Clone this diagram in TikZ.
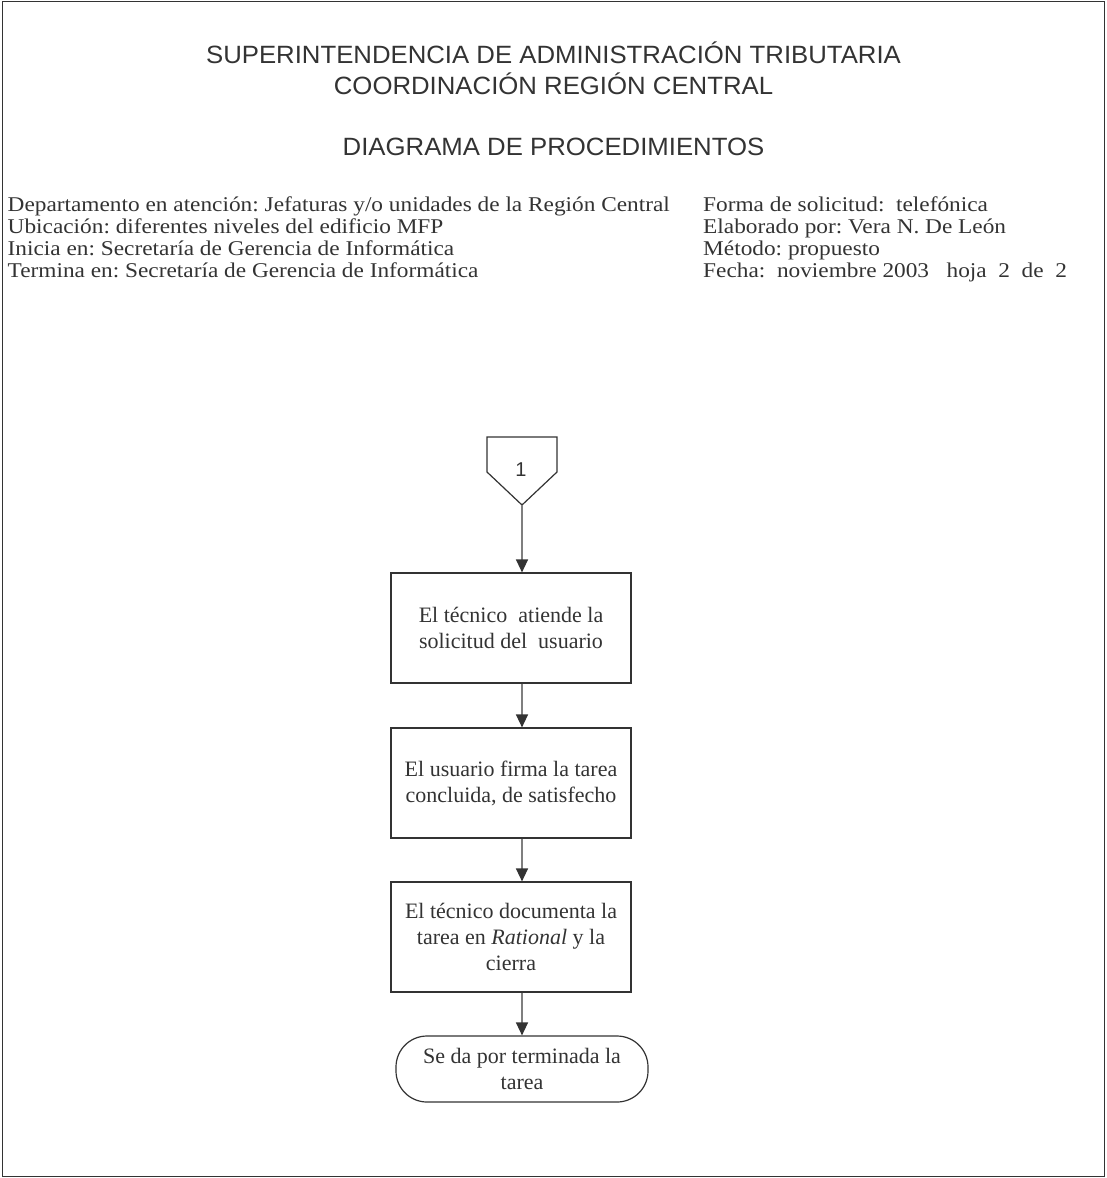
\documentclass[tikz,border=0pt]{standalone}
\usepackage{fontspec}
\setmainfont{Liberation Serif}
\newfontfamily\infofont[FakeStretch=1.11]{Liberation Serif}
\newfontfamily\hdrfont[FakeStretch=1.03]{Liberation Sans}
\newfontfamily\lblfont{Liberation Sans}
\usetikzlibrary{arrows.meta}
\definecolor{ink}{HTML}{333333}
\definecolor{wire}{HTML}{7F7F7F}
\frenchspacing
\begin{document}
\begin{tikzpicture}[x=1pt,y=-1pt,
  title/.style={font=\hdrfont\fontsize{25}{25}\selectfont, text=ink, inner sep=0pt, anchor=base},
  info/.style={font=\infofont\fontsize{21}{22}\selectfont, text=ink, inner sep=0pt, anchor=base west},
  stepbox/.style={draw=ink, line width=1.2pt, minimum width=240pt, minimum height=110pt,
    inner sep=0pt, align=center, text=ink, font=\fontsize{22}{26}\selectfont},
  endbox/.style={draw=ink, line width=1.2pt, minimum width=252pt, minimum height=66pt,
    rounded corners=31pt, inner sep=0pt, align=center, text=ink, font=\fontsize{22}{26}\selectfont},
  flow/.style={draw=wire, line width=1.4pt, -{Triangle[length=13pt,width=12pt,color=ink]}}
]
\useasboundingbox (0,0) rectangle (1107,1178);
% page frame
\draw[ink, line width=1.5pt] (2.5,1.5) rectangle (1104.5,1176.5);

% heading
\node[title] (t1) at (553.5,63) {SUPERINTENDENCIA DE ADMINISTRACIÓN TRIBUTARIA};
\node[title] (t2) at (553.5,94) {COORDINACIÓN REGIÓN CENTRAL};
\node[title] (t3) at (553.5,155) {DIAGRAMA DE PROCEDIMIENTOS};

% procedure data, left column
\node[info] (l1) at (7.5,211) {Departamento en atención: Jefaturas y/o unidades de la Región Central};
\node[info] (l2) at (7.5,233) {Ubicación: diferentes niveles del edificio MFP};
\node[info] (l3) at (7.5,255) {Inicia en: Secretaría de Gerencia de Informática};
\node[info] (l4) at (7.5,277) {Termina en: Secretaría de Gerencia de Informática};
% procedure data, right column
\node[info] (r1) at (703,211) {Forma de solicitud:\ \ telefónica};
\node[info] (r2) at (703,233) {Elaborado por: Vera N. De León};
\node[info] (r3) at (703,255) {Método: propuesto};
\node[info] (r4) at (703,277) {Fecha:\ \ noviembre 2003\ \ \ hoja\ \ 2\ \ de\ \ 2};

% off-page connector
\draw[ink, line width=1.2pt, fill=white] (487,437) -- (557,437) -- (557,472) -- (522,505) -- (487,472) -- cycle;
\coordinate (ctip) at (522,505);
\node[font=\lblfont\fontsize{20}{20}\selectfont, text=ink, inner sep=0pt] (cnum) at (521,470) {1};

% process steps
\node[stepbox] (s1) at (511,628) {El técnico\ \ atiende la\\solicitud del\ \ usuario};
\node[stepbox] (s2) at (511,783) {El usuario firma la tarea\\concluida, de satisfecho};
\node[stepbox] (s3) at (511,937) {El técnico documenta la\\tarea en \textit{Rational} y la\\cierra};
\node[endbox] (fin) at (522,1069) {Se da por terminada la\\tarea};

% flow
\draw[flow] (ctip) -- (ctip |- s1.north);
\draw[flow] (s1.south -| ctip) -- (s2.north -| ctip);
\draw[flow] (s2.south -| ctip) -- (s3.north -| ctip);
\draw[flow] (s3.south -| ctip) -- (fin.north);
\end{tikzpicture}
\end{document}
